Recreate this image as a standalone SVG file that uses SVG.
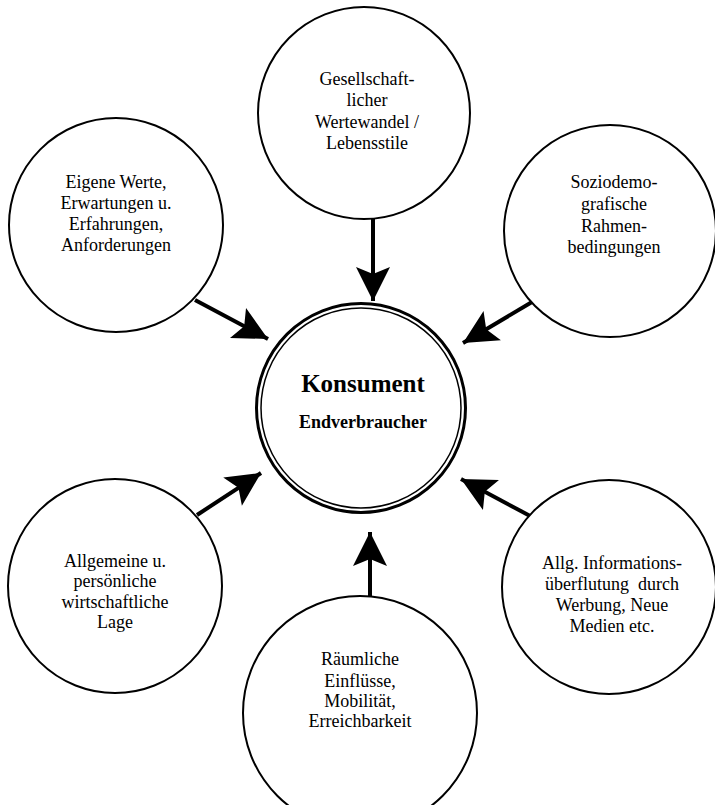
<svg xmlns="http://www.w3.org/2000/svg" width="715" height="805" viewBox="0 0 715 805">
  <defs>
    <marker id="head" markerUnits="userSpaceOnUse" markerWidth="40" markerHeight="40" viewBox="-36 -20 40 40" refX="0" refY="0" orient="auto">
      <path d="M0,0 L-34,-17 L-27,0 L-34,17 Z" fill="#000"/>
    </marker>
  </defs>
  <style>
    .node { fill: #fff; stroke: #000; stroke-width: 2; }
    .lbl { font-family: "Liberation Serif", "Times New Roman", serif; font-size: 18px; fill: #000; text-anchor: middle; }
    .bold { font-weight: bold; }
    .conn { stroke: #000; stroke-width: 4; fill: none; marker-end: url(#head); }
  </style>
  <rect width="715" height="805" fill="#fff"/>

  <g id="connectors">
    <line class="conn" x1="373" y1="219" x2="373" y2="301"/>
    <line class="conn" x1="370" y1="597" x2="370" y2="532"/>
    <line class="conn" x1="195" y1="300" x2="268" y2="339"/>
    <line class="conn" x1="532" y1="302" x2="463" y2="343"/>
    <line class="conn" x1="197" y1="515" x2="261" y2="473"/>
    <line class="conn" x1="532" y1="517" x2="461" y2="479"/>
  </g>

  <g id="konsument">
    <circle cx="361" cy="408" r="104.5" fill="#fff" stroke="#000" stroke-width="3"/>
    <circle cx="361" cy="408" r="100" fill="none" stroke="#000" stroke-width="1.5"/>
    <text class="lbl bold" x="363" y="392" style="font-size:25px">Konsument</text>
    <text class="lbl bold" x="363" y="428">Endverbraucher</text>
  </g>

  <g id="wertewandel">
    <circle class="node" cx="364" cy="113" r="106"/>
    <text class="lbl" x="367" y="85">Gesellschaft-</text>
    <text class="lbl" x="367" y="106">licher</text>
    <text class="lbl" x="367" y="128">Wertewandel /</text>
    <text class="lbl" x="367" y="149">Lebensstile</text>
  </g>

  <g id="eigene-werte">
    <circle class="node" cx="116" cy="225" r="107"/>
    <text class="lbl" x="116" y="188">Eigene Werte,</text>
    <text class="lbl" x="116" y="209">Erwartungen u.</text>
    <text class="lbl" x="116" y="230">Erfahrungen,</text>
    <text class="lbl" x="116" y="251">Anforderungen</text>
  </g>

  <g id="soziodemografie">
    <circle class="node" cx="610" cy="231" r="106"/>
    <text class="lbl" x="614" y="188">Soziodemo-</text>
    <text class="lbl" x="614" y="210">grafische</text>
    <text class="lbl" x="614" y="232">Rahmen-</text>
    <text class="lbl" x="614" y="253">bedingungen</text>
  </g>

  <g id="wirtschaftliche-lage">
    <circle class="node" cx="115" cy="586" r="107"/>
    <text class="lbl" x="115" y="567">Allgemeine u.</text>
    <text class="lbl" x="115" y="587">persönliche</text>
    <text class="lbl" x="115" y="608">wirtschaftliche</text>
    <text class="lbl" x="115" y="628">Lage</text>
  </g>

  <g id="informationsflut">
    <circle class="node" cx="609" cy="587" r="107"/>
    <text class="lbl" x="612" y="569">Allg. Informations-</text>
    <text class="lbl" x="612" y="590" xml:space="preserve">überflutung  durch</text>
    <text class="lbl" x="612" y="611">Werbung, Neue</text>
    <text class="lbl" x="612" y="632">Medien etc.</text>
  </g>

  <g id="raeumliche-einfluesse">
    <circle class="node" cx="360" cy="713" r="117"/>
    <text class="lbl" x="360" y="665">Räumliche</text>
    <text class="lbl" x="360" y="687">Einflüsse,</text>
    <text class="lbl" x="360" y="707">Mobilität,</text>
    <text class="lbl" x="360" y="727">Erreichbarkeit</text>
  </g>
</svg>
